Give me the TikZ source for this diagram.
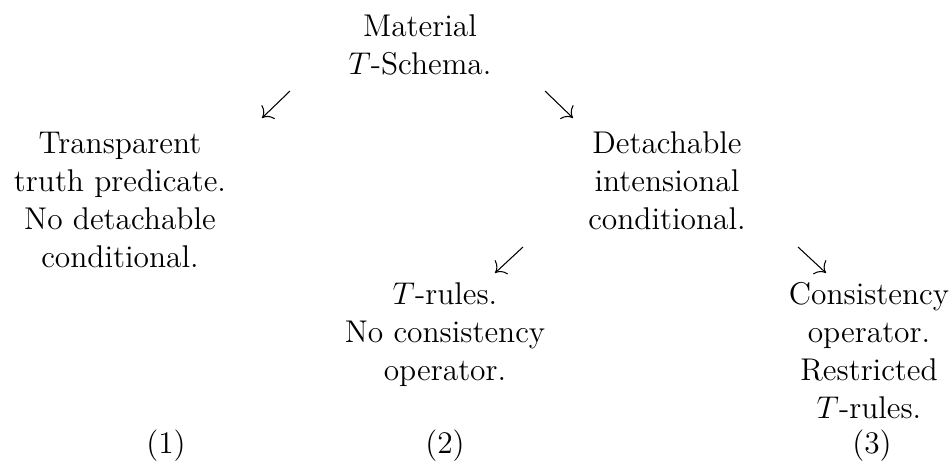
\documentclass[tikz,border=0pt]{standalone}
\usetikzlibrary{arrows.meta}
\begin{document}
\begin{tikzpicture}[x=0.3817pt,y=-0.3817pt,
  txt/.style={align=center,anchor=base,inner sep=0pt,font=\fontsize{12}{14.5}\selectfont},
  arr/.style={-{To[scale=1.4]},line width=0.4pt}]
\useasboundingbox (0,0) rectangle (951,466);
\node[txt] (top) at (420,74) {Material\\$T$-Schema.};
\node[txt] (left) at (120,267) {Transparent\\truth predicate.\\No detachable\\conditional.};
\node[txt] (mid) at (667,229) {Detachable\\intensional\\conditional.};
\node[txt] (trules) at (445,380) {$T$-rules.\\No consistency\\operator.};
\node[txt] (cons) at (869,418) {Consistency\\operator.\\Restricted\\$T$-rules.};
\node[txt] (n1) at (166,453) {(1)};
\node[txt] (n2) at (445,453) {(2)};
\node[txt] (n3) at (872,453) {(3)};
\coordinate (a1s) at (290,91); \coordinate (a1e) at (262,118);
\coordinate (a2s) at (545,91); \coordinate (a2e) at (573,118);
\coordinate (a3s) at (523,247); \coordinate (a3e) at (495,273);
\coordinate (a4s) at (798,247); \coordinate (a4e) at (826,273);
\draw[arr] (a1s) -- (a1e);
\draw[arr] (a2s) -- (a2e);
\draw[arr] (a3s) -- (a3e);
\draw[arr] (a4s) -- (a4e);
\end{tikzpicture}
\end{document}
